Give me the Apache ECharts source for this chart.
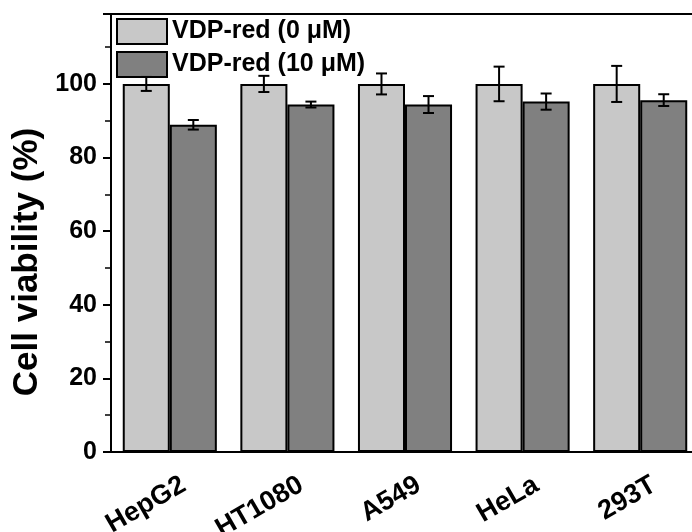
<!DOCTYPE html>
<html>
<head>
<meta charset="utf-8">
<script src="https://cdn.jsdelivr.net/npm/echarts@6/dist/echarts.min.js"></script>
<style>
html,body{margin:0;padding:0;background:#fff;}
#chart{width:692px;height:532px;}
</style>
</head>
<body>
<div id="chart"></div>
<script>
const categories = ['HepG2', 'HT1080', 'A549', 'HeLa', '293T'];
const seriesNames = ['VDP-red (0 \u03bcM)', 'VDP-red (10 \u03bcM)'];
const control = [100, 100, 100, 100, 100];
const controlErr = [1.9, 2.2, 2.85, 4.7, 4.9];
const treated = [88.9, 94.4, 94.4, 95.2, 95.6];
const treatedErr = [1.3, 0.8, 2.3, 2.2, 1.6];
const yTicks = [0, 20, 40, 60, 80, 100];

const FONT = 'Liberation Sans, Arial, sans-serif';
const chart = echarts.init(document.getElementById('chart'));

function errorSeries(values, errs, side) {
  return {
    type: 'custom',
    z: 10,
    silent: true,
    data: values.map((v, i) => [i, v, errs[i]]),
    renderItem: function (params, api) {
      const i = api.value(0), v = api.value(1), e = api.value(2);
      const band = api.size([1, 0])[0];
      const c = api.coord([i, v]);
      const x = c[0] + side * band * 0.2;
      const yTop = api.coord([i, v + e])[1];
      const yBot = api.coord([i, v - e])[1];
      const hw = 5.5;
      const st = { stroke: '#000', lineWidth: 2 };
      return {
        type: 'group',
        children: [
          { type: 'line', shape: { x1: x, y1: yTop, x2: x, y2: yBot }, style: st },
          { type: 'line', shape: { x1: x - hw, y1: yTop, x2: x + hw, y2: yTop }, style: st },
          { type: 'line', shape: { x1: x - hw, y1: yBot, x2: x + hw, y2: yBot }, style: st }
        ]
      };
    }
  };
}

chart.setOption({
  animation: false,
  backgroundColor: '#fff',
  grid: {
    left: 111, top: 14, width: 588, bottom: 80,
    containLabel: false, outerBoundsMode: 'none',
    show: true, borderColor: '#000', borderWidth: 2, backgroundColor: 'transparent'
  },
  legend: {
    orient: 'vertical',
    left: 111, top: 13,
    itemWidth: 50, itemHeight: 25, itemGap: 6,
    icon: 'rect',
    textStyle: { fontFamily: FONT, fontWeight: 'bold', fontSize: 25, color: '#000' },
    data: seriesNames
  },
  xAxis: {
    type: 'category',
    data: categories,
    axisLine: { lineStyle: { color: '#000', width: 2 } },
    axisTick: { alignWithLabel: true, length: 8, lineStyle: { color: '#000', width: 2 } },
    axisLabel: {
      rotate: 30, margin: 39, padding: [0, -16, 0, 0],
      fontFamily: FONT, fontWeight: 'bold', fontSize: 27, color: '#000'
    }
  },
  yAxis: {
    type: 'value',
    min: 0, max: 119, interval: 20,
    name: 'Cell viability (%)',
    nameLocation: 'middle',
    nameGap: 64,
    nameTextStyle: { fontFamily: FONT, fontWeight: 'bold', fontSize: 35, color: '#000', padding: [0, 58, 0, 0] },
    splitLine: { show: false },
    axisLine: { show: true, lineStyle: { color: '#000', width: 2 } },
    axisTick: { show: true, length: 8, lineStyle: { color: '#000', width: 2 } },
    minorTick: { show: true, splitNumber: 2, length: 6, lineStyle: { color: '#000', width: 1.5 } },
    axisLabel: {
      margin: 14, fontFamily: FONT, fontWeight: 'bold', fontSize: 25, color: '#000',
      formatter: function (v) { return yTicks.indexOf(v) >= 0 ? String(v) : ''; }
    }
  },
  series: [
    {
      name: seriesNames[0], type: 'bar', data: control,
      barGap: '0%', barCategoryGap: '20%',
      itemStyle: { color: '#c8c8c8', borderColor: '#000', borderWidth: 2 }
    },
    {
      name: seriesNames[1], type: 'bar', data: treated,
      barGap: '0%', barCategoryGap: '20%',
      itemStyle: { color: '#808080', borderColor: '#000', borderWidth: 2 }
    },
    errorSeries(control, controlErr, -1),
    errorSeries(treated, treatedErr, 1)
  ]
});
</script>
</body>
</html>
